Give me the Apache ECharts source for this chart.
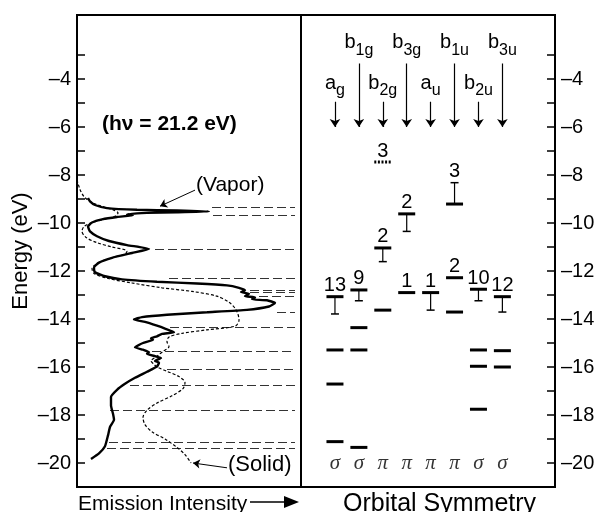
<!DOCTYPE html>
<html>
<head>
<meta charset="utf-8">
<script src="https://cdn.jsdelivr.net/npm/echarts@6.0.0/dist/echarts.min.js"></script>
<style>
html,body{margin:0;padding:0;background:#fff}
#chart{width:601px;height:512px}
</style>
</head>
<body>
<div id="chart"></div>
<script>
// photoemission spectra, intensity in arbitrary units vs energy (eV)
var vaporIntensity = [11,13,18,30,60,100,132,100,70,60,50,56,40,25,15,11,13,20,32,50,72,55,35,22,17,18,28,45,80,120,150,162,168,164,172,168,178,175,190,198,192,170,130,90,65,57,68,80,88,97,85,80,74,76,66,58,66,72,70,78,84,78,82,80,70,58,48,40,34,34,36,37,33,31,28,22,14];
var vaporEnergy = [-8.96,-9.1,-9.25,-9.38,-9.45,-9.48,-9.52,-9.55,-9.58,-9.6,-9.64,-9.68,-9.75,-9.85,-9.98,-10.15,-10.35,-10.55,-10.75,-10.92,-11.08,-11.25,-11.45,-11.65,-11.85,-12.05,-12.22,-12.35,-12.45,-12.52,-12.6,-12.7,-12.8,-12.88,-12.95,-13.05,-13.1,-13.18,-13.22,-13.33,-13.48,-13.62,-13.72,-13.82,-13.92,-14.02,-14.12,-14.28,-14.4,-14.55,-14.62,-14.72,-14.8,-14.86,-15.0,-15.18,-15.28,-15.38,-15.45,-15.55,-15.62,-15.75,-15.82,-15.98,-16.2,-16.45,-16.7,-16.95,-17.25,-17.6,-17.95,-18.2,-18.5,-18.85,-19.3,-19.6,-19.83];
var solidIntensity = [0,3,7,15,26,36,41,38,27,15,7,5,9,20,35,50,48,35,22,15,17,30,55,85,115,140,152,158,161,162,158,130,105,92,90,92,86,80,74,76,80,90,102,108,106,95,80,70,66,68,75,88,100,108,114];
var solidEnergy = [-8.2,-8.6,-8.9,-9.15,-9.32,-9.45,-9.58,-9.72,-9.85,-9.98,-10.15,-10.35,-10.6,-10.82,-11.0,-11.17,-11.3,-11.45,-11.65,-11.9,-12.1,-12.3,-12.5,-12.7,-12.85,-13.05,-13.3,-13.55,-13.8,-14.05,-14.3,-14.45,-14.6,-14.75,-14.95,-15.15,-15.35,-15.55,-15.75,-15.85,-16.0,-16.18,-16.4,-16.65,-16.9,-17.2,-17.5,-17.8,-18.1,-18.4,-18.7,-19.0,-19.35,-19.65,-20.0];

// dashed guides across the spectrum panel
var guideEnergy = [-9.35,-9.67,-11.1,-12.3,-12.79,-12.89,-13.07,-13.7,-14.36,-15.36,-16.1,-16.75,-17.82,-19.14,-19.39];
var guideStart = [135,136,78,92,173,173,182,200,93,75,90,53,33,32,30];
var guideEnd = 218;

// orbital symmetry columns
var symmetryName = ['a','b','b','b','a','b','b','b'];
var symmetrySub = ['g','1g','2g','3g','u','1u','2u','3u'];
var symmetryLabelEnergy = [-4.46,-2.79,-4.46,-2.79,-4.46,-2.79,-4.46,-2.79];
var arrowStart = [-4.95,-3.35,-4.95,-3.35,-4.95,-3.35,-4.95,-3.35];
var arrowEnd = -6.0;
var orbitalType = ['σ','σ','π','π','π','π','σ','σ'];
var orbitalTypeEnergy = -20;

// calculated levels
var levelColumn = [0,0,0,0, 1,1,1,1, 2,2,2, 3,3, 4, 5,5,5, 6,6,6,6, 7,7,7];
var levelEnergy = [-13.07,-15.29,-16.71,-19.11, -12.79,-14.36,-15.29,-19.35, -7.46,-11.04,-13.63, -9.62,-12.9, -12.9, -9.21,-12.28,-13.71, -12.76,-15.29,-15.97,-17.76, -13.07,-15.32,-16.0];
var levelError = [-13.79,null,null,null, -13.24,null,null,null, null,-11.61,null, -10.35,null, -13.63, -8.32,null,null, -13.24,null,null,null, -13.71,null,null];
var levelLabel = ['13','','','', '9','','','', '3','2','', '2','1', '1', '3','2','', '10','','','', '12','',''];
var levelDotted = [0,0,0,0, 0,0,0,0, 1,0,0, 0,0, 0, 0,0,0, 0,0,0,0, 0,0,0];

// annotation arrows [intensity, energy]
var vaporArrow = [[118,-8.63],[83,-9.3]];
var solidArrow = [[150,-20.2],[116,-20.0]];

var energyTicks = [-20,-19,-18,-17,-16,-15,-14,-13,-12,-11,-10,-9,-8,-7,-6,-5,-4,-3];
var energyLabels = [-20,-18,-16,-14,-12,-10,-8,-6,-4];

var FONT = 'Liberation Sans, Arial, Helvetica, sans-serif';
var INK = '#000';

var measureCtx = document.createElement('canvas').getContext('2d');
function textWidth(str, size) {
	measureCtx.font = size + 'px ' + FONT;
	return measureCtx.measureText(str).width;
}

function zipPairs(a, b) {
	var out = [];
	for (var i = 0; i < a.length; i++) out.push([a[i], b[i]]);
	return out;
}

function energyAxis(gridIndex, pos) {
	return {
		type: 'value', gridIndex: gridIndex, position: pos,
		min: -21, max: -1.3333,
		splitLine: {show: false},
		axisLine: {show: true, onZero: false, lineStyle: {color: INK, width: 2}},
		axisTick: {show: true, inside: true, length: 8, customValues: energyTicks, lineStyle: {color: INK, width: 1.5}},
		axisLabel: {
			show: true, customValues: energyLabels, margin: 6,
			color: INK, fontSize: 20, fontFamily: FONT,
			formatter: function (v) { return v < 0 ? '\u2013' + Math.abs(v) : '' + v; }
		}
	};
}

function renderLevel(params, api) {
	var i = params.dataIndex;
	var p = api.coord([api.value(0), api.value(1)]);
	var half = 8.5;
	var kids = [{
		type: 'line',
		shape: {x1: p[0] - half, y1: p[1], x2: p[0] + half, y2: p[1]},
		style: {stroke: INK, lineWidth: 3, lineDash: levelDotted[i] ? [2, 1.6] : null}
	}];
	var top = p[1];
	if (levelError[i] !== null) {
		var q = api.coord([api.value(0), levelError[i]]);
		kids.push({type: 'line', shape: {x1: p[0], y1: p[1], x2: q[0], y2: q[1]}, style: {stroke: INK, lineWidth: 1.2}});
		kids.push({type: 'line', shape: {x1: q[0] - 4, y1: q[1], x2: q[0] + 4, y2: q[1]}, style: {stroke: INK, lineWidth: 1.5}});
		top = Math.min(top, q[1]);
	}
	if (levelLabel[i]) {
		kids.push({
			type: 'text',
			style: {text: levelLabel[i], x: p[0], y: top - 1, align: 'center', verticalAlign: 'bottom',
				fontSize: 20, fontFamily: FONT, fill: INK}
		});
	}
	return {type: 'group', children: kids};
}

// symmetry label with subscript, anchored on the main letter baseline
function renderSymmetry(params, api) {
	var i = params.dataIndex;
	var p = api.coord([api.value(0), api.value(1)]);
	var wm = textWidth(symmetryName[i], 20);
	var ws = textWidth(symmetrySub[i], 16);
	var left = p[0] - (wm + ws) / 2;
	return {
		type: 'group',
		children: [
			{type: 'text', style: {text: symmetryName[i], x: left, y: p[1] - 7, align: 'left', verticalAlign: 'middle', fontSize: 20, fontFamily: FONT, fill: INK}},
			{type: 'text', style: {text: symmetrySub[i], x: left + wm, y: p[1] + 0.5, align: 'left', verticalAlign: 'middle', fontSize: 16, fontFamily: FONT, fill: INK}}
		]
	};
}

var myChart = echarts.init(document.getElementById('chart'));

var guideData = [];
for (var g = 0; g < guideEnergy.length; g++) {
	guideData.push({coords: [[guideStart[g], guideEnergy[g]], [guideEnd, guideEnergy[g]]]});
}
var arrowData = [];
var labelData = [];
var typeData = [];
for (var c = 0; c < symmetryName.length; c++) {
	arrowData.push({coords: [[c, arrowStart[c]], [c, arrowEnd]]});
	labelData.push([c, symmetryLabelEnergy[c]]);
	typeData.push([c, orbitalTypeEnergy]);
}

var option = {
	animation: false,
	backgroundColor: '#fff',
	grid: [
		{left: 77, top: 15, width: 224, height: 472, show: true, borderColor: INK, borderWidth: 2, backgroundColor: 'transparent'},
		{left: 301, top: 15, width: 254, height: 472, show: true, borderColor: INK, borderWidth: 2, backgroundColor: 'transparent'}
	],
	xAxis: [
		{type: 'value', gridIndex: 0, min: 0, max: 224, show: false},
		{type: 'value', gridIndex: 1, min: -1.42, max: 9.2, show: false}
	],
	yAxis: [
		Object.assign(energyAxis(0, 'left'), {
			name: 'Energy (eV)', nameLocation: 'middle', nameGap: 45, nameRotate: 90,
			nameTextStyle: {color: INK, fontSize: 22, fontFamily: FONT}
		}),
		energyAxis(1, 'right')
	],
	series: [
		{
			name: 'guides', type: 'lines', coordinateSystem: 'cartesian2d', xAxisIndex: 0, yAxisIndex: 0,
			data: guideData, symbol: 'none',
			lineStyle: {color: '#333', width: 1.1, type: [9, 4], opacity: 1}
		},
		{
			name: 'Solid', type: 'line', xAxisIndex: 0, yAxisIndex: 0,
			data: zipPairs(solidIntensity, solidEnergy), showSymbol: false, smooth: 0.3,
			lineStyle: {color: INK, width: 1.2, type: [3, 2]}
		},
		{
			name: 'Vapor', type: 'line', xAxisIndex: 0, yAxisIndex: 0,
			data: zipPairs(vaporIntensity, vaporEnergy), showSymbol: false, smooth: 0.15,
			lineStyle: {color: INK, width: 2.4}
		},
		{
			name: 'annot', type: 'lines', coordinateSystem: 'cartesian2d', xAxisIndex: 0, yAxisIndex: 0,
			data: [{coords: vaporArrow}, {coords: solidArrow}],
			symbol: ['none', 'arrow'], symbolSize: 7,
			lineStyle: {color: INK, width: 1, opacity: 1}
		},
		{
			name: 'symArrows', type: 'lines', coordinateSystem: 'cartesian2d', xAxisIndex: 1, yAxisIndex: 1,
			data: arrowData, symbol: ['none', 'arrow'], symbolSize: 8,
			lineStyle: {color: INK, width: 1.2, opacity: 1}
		},
		{
			name: 'symLabels', type: 'custom', xAxisIndex: 1, yAxisIndex: 1,
			data: labelData, renderItem: renderSymmetry, clip: false, silent: true
		},
		{
			name: 'types', type: 'scatter', xAxisIndex: 1, yAxisIndex: 1,
			data: typeData, symbolSize: 0, silent: true,
			label: {
				show: true, position: 'inside', color: INK,
				fontFamily: 'Liberation Serif, DejaVu Serif, serif', fontStyle: 'italic', fontSize: 21,
				formatter: function (p) { return orbitalType[p.dataIndex]; }
			}
		},
		{
			name: 'levels', type: 'custom', xAxisIndex: 1, yAxisIndex: 1,
			data: zipPairs(levelColumn, levelEnergy),
			renderItem: renderLevel, clip: false
		}
	],
	graphic: [
		{type: 'text', left: 102, top: 114, style: {text: '(h\u03bd = 21.2 eV)', fontSize: 21, fontWeight: 'bold', fontFamily: FONT, fill: INK}},
		{type: 'text', left: 196, top: 175, style: {text: '(Vapor)', fontSize: 21, fontFamily: FONT, fill: INK}},
		{type: 'text', left: 228, top: 454, style: {text: '(Solid)', fontSize: 22, fontFamily: FONT, fill: INK}},
		{type: 'text', left: 78, top: 494, style: {text: 'Emission Intensity', fontSize: 21, fontFamily: FONT, fill: INK}},
		{type: 'line', shape: {x1: 250, y1: 502, x2: 290, y2: 502}, style: {stroke: INK, lineWidth: 1.5}},
		{type: 'polygon', shape: {points: [[284, 496], [299, 502], [284, 508]]}, style: {fill: INK}},
		{type: 'text', left: 343, top: 492, style: {text: 'Orbital Symmetry', fontSize: 25, fontFamily: FONT, fill: INK}}
	]
};

window.addEventListener("resize", function () {
	myChart.resize();
});
myChart.setOption(option, true);
</script>
</body>
</html>
